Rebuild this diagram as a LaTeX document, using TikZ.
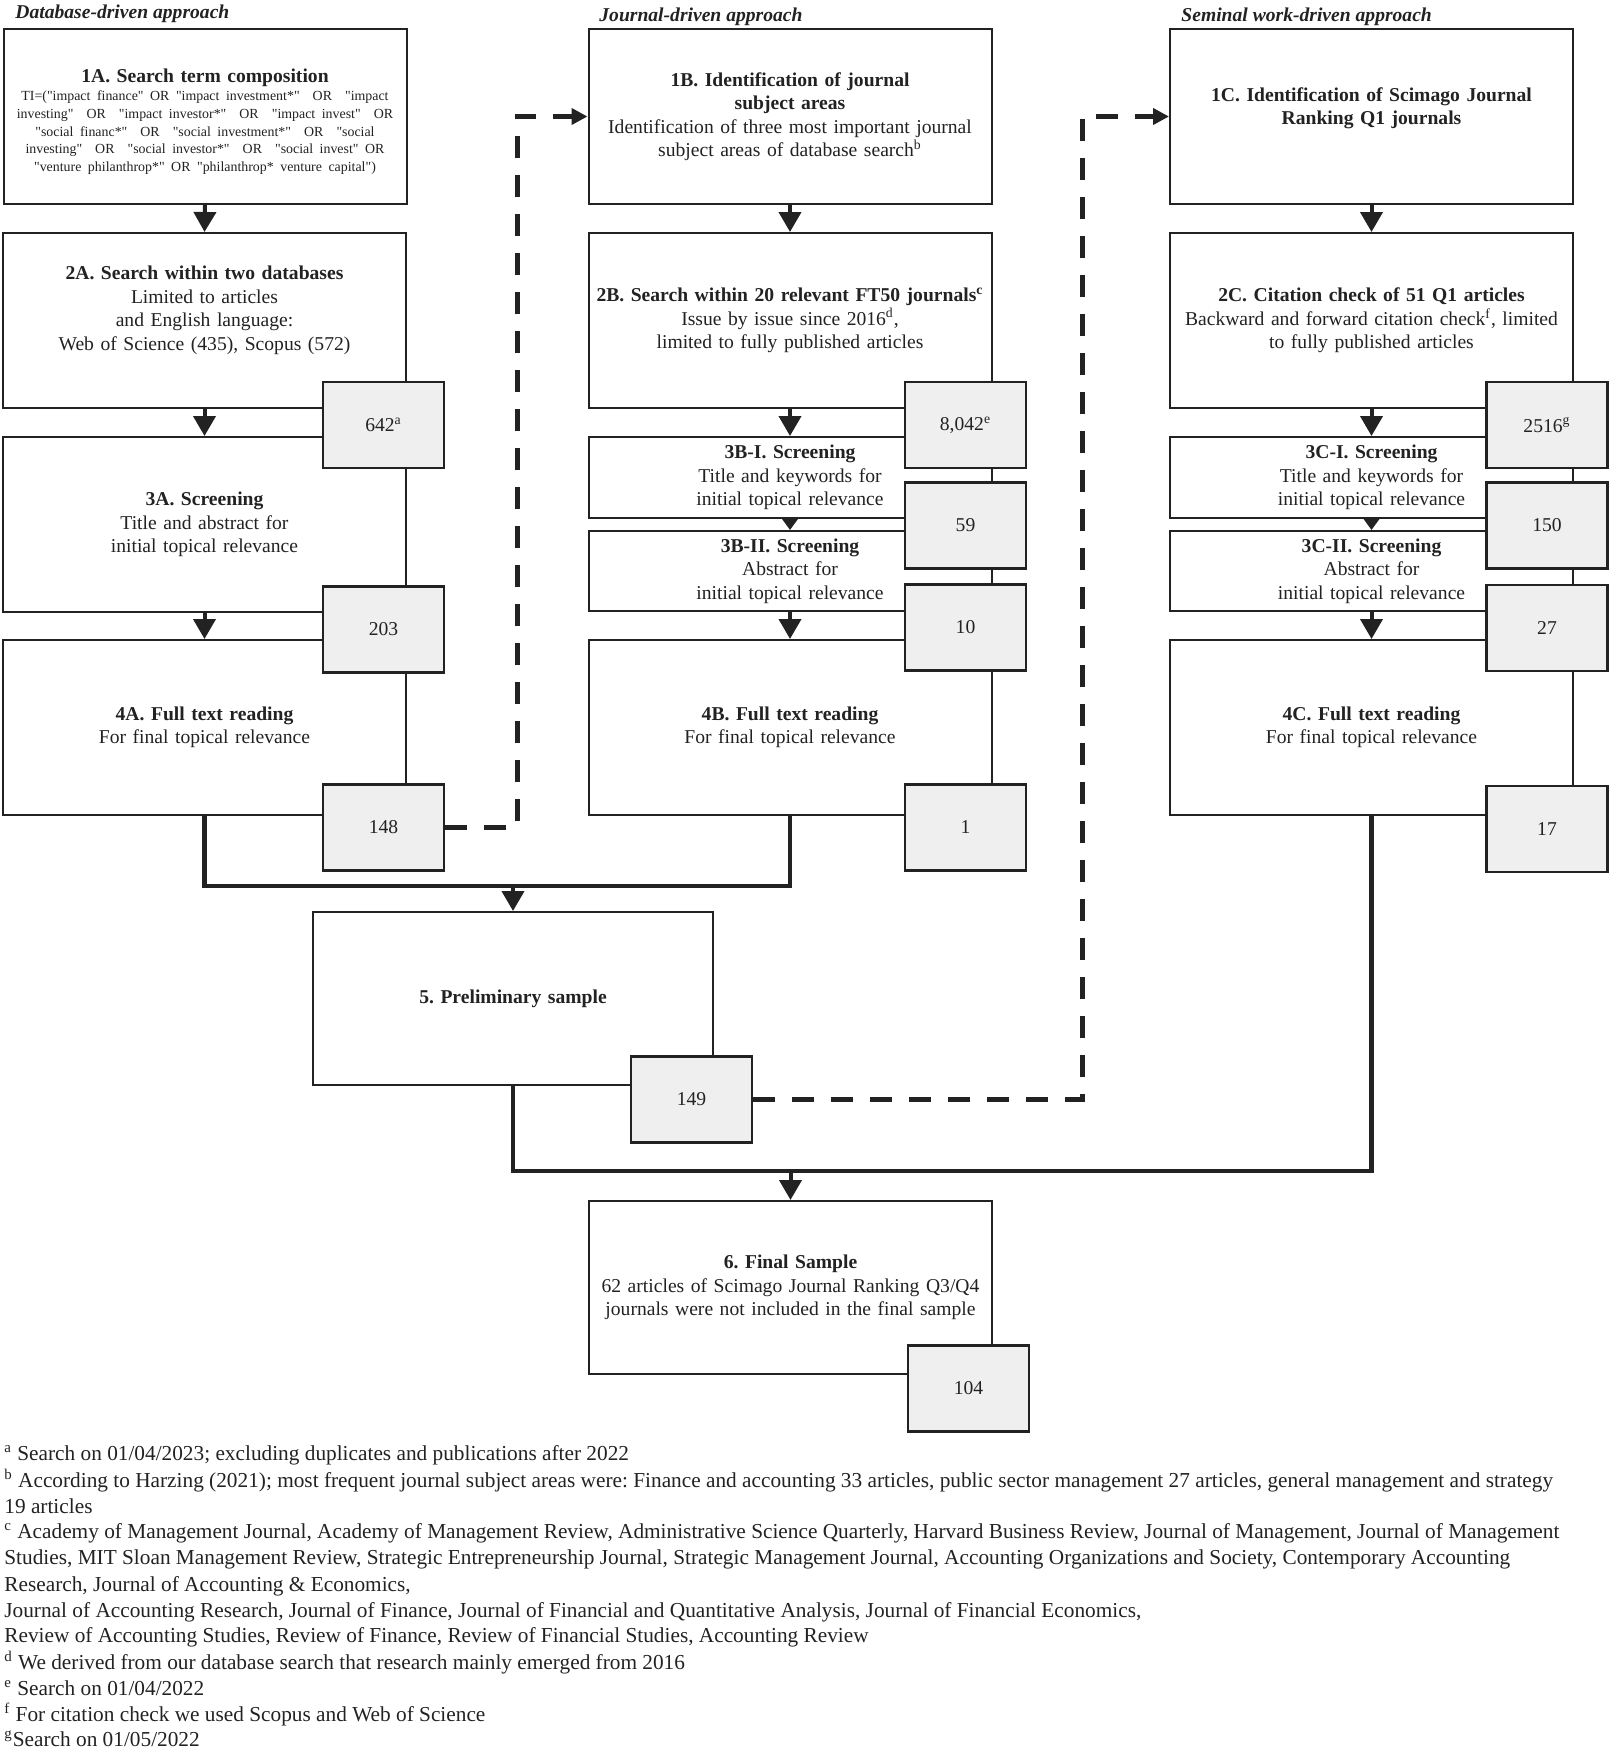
\documentclass[tikz,border=0pt]{standalone}
\usepackage{fontspec}
\setmainfont{Liberation Serif}[Ligatures=TeXOff]
\usetikzlibrary{arrows.meta,calc}
\definecolor{ink}{HTML}{222222}
\definecolor{cntgray}{HTML}{EFEFEF}
\newcommand{\fsbox}{\fontsize{9.8}{11.75}\selectfont}
\newcommand{\fssmall}{\fontsize{6.95}{8.8}\selectfont}
\newcommand{\fsnote}{\fontsize{10.65}{13}\selectfont}
\frenchspacing
\begin{document}
\begin{tikzpicture}[x=0.5pt,y=-0.5pt,
  box/.style={draw=ink, line width=1pt, fill=white, minimum width=201.5pt, minimum height=87.5pt,
    inner sep=0pt, text width=200pt, align=center, font=\fsbox, text=ink},
  cnt/.style={draw=ink, line width=1.2pt, fill=cntgray, minimum width=60.5pt, minimum height=43pt,
    inner sep=0pt, font=\fsbox, text=ink},
  flowarrow/.style={draw=ink, line width=2pt, -{Triangle[width=11pt,length=10pt]}},
  shortarrow/.style={draw=ink, line width=2pt, -{Triangle[width=9pt,length=6.5pt]}},
  mergeline/.style={draw=ink, line width=2.2pt, line join=miter},
  dashedroute/.style={draw=ink, line width=2.5pt, dash pattern=on 11pt off 8.5pt, -{Triangle[width=8pt,length=8pt]}},
  sectitle/.style={anchor=west, inner sep=0pt, font=\fontsize{9.8}{11.75}\selectfont\bfseries\itshape, text=ink},
  note/.style={anchor=base west, inner sep=0pt, font=\fsnote, text=ink}
]
\useasboundingbox (0,0) rectangle (1609,1750);

% section titles
\node[sectitle] (tA) at (15,14) {Database-driven approach};
\node[sectitle] (tB) at (599,17) {Journal-driven approach};
\node[sectitle] (tC) at (1181,17) {Seminal work-driven approach};

% column A
\node[box] (a1) at (205,116.5) {\textbf{1A. Search term composition}\par\vspace{0.5pt}
  {\fssmall TI=("impact finance" OR "impact investment*"\ \ OR\ \ "impact\\
  investing"\ \ OR\ \ "impact investor*"\ \ OR\ \ "impact invest"\ \ OR\\
  "social financ*"\ \ OR\ \ "social investment*"\ \ OR\ \ "social\\
  investing"\ \ OR\ \ "social investor*"\ \ OR\ \ "social invest" OR\\
  "venture philanthrop*" OR "philanthrop* venture capital")\par}\vspace{-5pt}};
\node[box] (a2) at (204.5,320.5) {\textbf{2A. Search within two databases}\\
  Limited to articles\\ and English language:\\ Web of Science (435), Scopus (572)\par\vspace{10pt}};
\node[box] (a3) at (204.5,524.5) {\textbf{3A. Screening}\\ Title and abstract for\\ initial topical relevance};
\node[box] (a4) at (204.5,727.5) {\textbf{4A. Full text reading}\\ For final topical relevance};

% column B
\node[box] (b1) at (790,116.5) {\textbf{1B. Identification of journal}\\ \textbf{subject areas}\\
  Identification of three most important journal\\ subject areas of database search\textsuperscript{b}};
\node[box] (b2) at (790,320.5) {\textbf{2B. Search within 20 relevant FT50 journals\textsuperscript{c}}\\
  Issue by issue since 2016\textsuperscript{d},\\ limited to fully published articles};
\node[box, minimum height=40.5pt] (b3) at (790,477.5) {\textbf{3B-I. Screening}\\ Title and keywords for\\ initial topical relevance};
\node[box, minimum height=40pt] (b3b) at (790,571) {\textbf{3B-II. Screening}\\ Abstract for\\ initial topical relevance};
\node[box] (b4) at (790,727.5) {\textbf{4B. Full text reading}\\ For final topical relevance};

% column C
\node[box] (c1) at (1371.5,116.5) {\textbf{1C. Identification of Scimago Journal}\\ \textbf{Ranking Q1 journals}\par\vspace{8pt}};
\node[box] (c2) at (1371.5,320.5) {\textbf{2C. Citation check of 51 Q1 articles}\\
  Backward and forward citation check\textsuperscript{f}, limited\\ to fully published articles};
\node[box, minimum height=40.5pt] (c3) at (1371.5,477.5) {\textbf{3C-I. Screening}\\ Title and keywords for\\ initial topical relevance};
\node[box, minimum height=40pt] (c3b) at (1371.5,571) {\textbf{3C-II. Screening}\\ Abstract for\\ initial topical relevance};
\node[box] (c4) at (1371.5,727.5) {\textbf{4C. Full text reading}\\ For final topical relevance};

% merged
\node[box, minimum width=200pt, text width=198pt, minimum height=86.5pt] (s5) at (513,998.5) {\textbf{5. Preliminary sample}};
\node[box, minimum height=86.5pt] (s6) at (790.5,1287.5) {\textbf{6. Final Sample}\\
  62 articles of Scimago Journal Ranking Q3/Q4\\ journals were not included in the final sample};

% count boxes
\node[cnt] (n642) at (383.5,425) {642\textsuperscript{a}};
\node[cnt] (n203) at (383.5,629.5) {203};
\node[cnt] (n148) at (383.5,827.5) {148};
\node[cnt] (n8042) at (965.5,425) {8,042\textsuperscript{e}};
\node[cnt] (n59) at (965.5,525.5) {59};
\node[cnt] (n10) at (965.5,627.5) {10};
\node[cnt] (n1) at (965.5,827.5) {1};
\node[cnt] (n2516) at (1547,425) {2516\textsuperscript{g}};
\node[cnt] (n150) at (1547,525.5) {150};
\node[cnt] (n27) at (1547,628) {27};
\node[cnt] (n17) at (1547,829) {17};
\node[cnt] (n149) at (691.5,1099.5) {149};
\node[cnt] (n104) at (968.5,1388.5) {104};

% vertical arrows
\draw[flowarrow] (a1.south) -- (a2.north);
\draw[flowarrow] (a2.south) -- (a3.north);
\draw[flowarrow] (a3.south) -- (a4.north);
\draw[flowarrow] (b1.south) -- (b2.north);
\draw[flowarrow] (b2.south) -- (b3.north);
\draw[shortarrow] (b3.south) -- (b3b.north);
\draw[flowarrow] (b3b.south) -- (b4.north);
\draw[flowarrow] (c1.south) -- (c2.north);
\draw[flowarrow] (c2.south) -- (c3.north);
\draw[shortarrow] (c3.south) -- (c3b.north);
\draw[flowarrow] (c3b.south) -- (c4.north);

% merge lines
\coordinate (mA) at (0,886);
\coordinate (mB) at (0,1171);
\draw[mergeline] (a4.south) -- (a4.south |- mA) -- (b4.south |- mA) -- (b4.south);
\draw[flowarrow] (s5.north |- mA) -- (s5.north);
\draw[mergeline] (s5.south) -- (s5.south |- mB) -- (c4.south |- mB) -- (c4.south);
\draw[flowarrow] (s6.north |- mB) -- (s6.north);

% dashed routes
\coordinate (dA) at (517,0);
\coordinate (dB) at (1082,0);
\draw[dashedroute] (n148.east) -- (n148.east -| dA) -- (dA |- b1.west) -- (b1.west);
\draw[dashedroute] (n149.east) -- (n149.east -| dB) -- (dB |- c1.west) -- (c1.west);

% footnotes
\node[note] (f1) at (4,1460) {\textsuperscript{a} Search on 01/04/2023; excluding duplicates and publications after 2022};
\node[note] (f2) at (4,1487) {\textsuperscript{b} According to Harzing (2021); most frequent journal subject areas were: Finance and accounting 33 articles, public sector management 27 articles, general management and strategy};
\node[note] (f3) at (4,1513) {19 articles};
\node[note] (f4) at (4,1538) {\textsuperscript{c} Academy of Management Journal, Academy of Management Review, Administrative Science Quarterly, Harvard Business Review, Journal of Management, Journal of Management};
\node[note] (f5) at (4,1564) {Studies, MIT Sloan Management Review, Strategic Entrepreneurship Journal, Strategic Management Journal, Accounting Organizations and Society, Contemporary Accounting};
\node[note] (f6) at (4,1591) {Research, Journal of Accounting \& Economics,};
\node[note] (f7) at (4,1617) {Journal of Accounting Research, Journal of Finance, Journal of Financial and Quantitative Analysis, Journal of Financial Economics,};
\node[note] (f8) at (4,1642) {Review of Accounting Studies, Review of Finance, Review of Financial Studies, Accounting Review};
\node[note] (f9) at (4,1669) {\textsuperscript{d} We derived from our database search that research mainly emerged from 2016};
\node[note] (f10) at (4,1695) {\textsuperscript{e} Search on 01/04/2022};
\node[note] (f11) at (4,1721) {\textsuperscript{f} For citation check we used Scopus and Web of Science};
\node[note] (f12) at (4,1746) {\textsuperscript{g}Search on 01/05/2022};
\end{tikzpicture}
\end{document}
